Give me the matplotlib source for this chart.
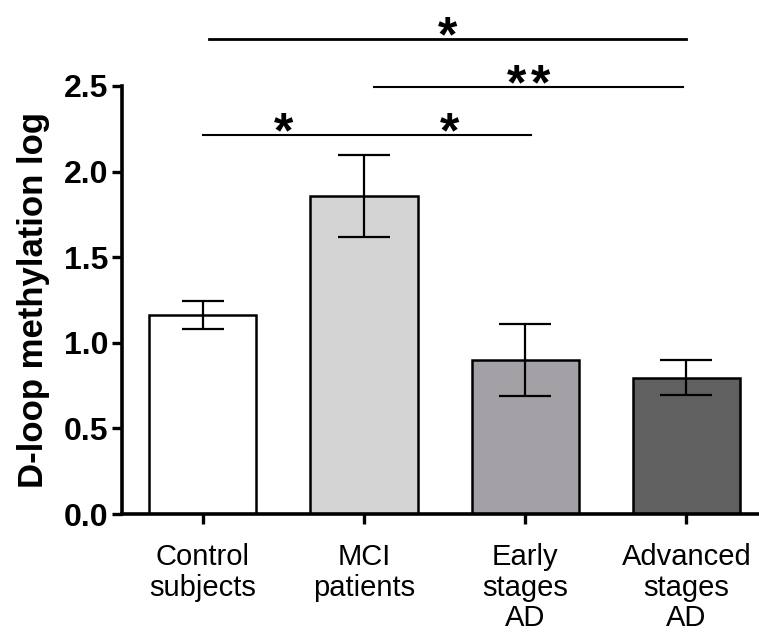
import matplotlib
matplotlib.use('Agg')
import matplotlib.pyplot as plt

plt.rcParams['font.family'] = ['Liberation Sans', 'DejaVu Sans']

grupos = ['Control\nsubjects', 'MCI\npatients', 'Early\nstages\nAD', 'Advanced\nstages\nAD']
medias = [1.165, 1.857, 0.898, 0.795]
errores = [0.082, 0.24, 0.21, 0.102]
colores = ['#ffffff', '#d4d4d4', '#a3a1a5', '#606060']
capsizes = [14.8, 19, 19, 19]

# comparaciones: (x inicio, x fin, altura, numero de asteriscos)
comparaciones = [
    (0.04, 3.0, 2.775, 1),
    (1.06, 2.98, 2.496, 2),
    (0.0, 1.01, 2.214, 1),
    (1.025, 2.035, 2.214, 1),
]

fig = plt.figure(figsize=(7.59, 6.36), dpi=100)
ax = fig.add_axes([0.1607, 0.1918, 0.85, 0.673])

x = list(range(len(grupos)))
ax.bar(x, medias, width=0.665, color=colores, edgecolor='black', linewidth=1.8, zorder=2)
for i in x:
    ax.errorbar(i, medias[i], yerr=errores[i], fmt='none', ecolor='black',
                elinewidth=1.6, capsize=capsizes[i], capthick=1.6, zorder=3)

ax.set_xlim(-0.5, 3.5)
ax.set_ylim(0, 2.5)
ax.set_yticks([0, 0.5, 1.0, 1.5, 2.0, 2.5])
ax.set_yticklabels(['0.0', '0.5', '1.0', '1.5', '2.0', '2.5'], fontsize=23, fontweight='bold')
ax.set_xticks(x)
ax.set_xticklabels(grupos, fontsize=21, linespacing=1.12)
ax.tick_params(axis='both', width=2.4, length=7)
ax.tick_params(axis='y', pad=3)
ax.tick_params(axis='x', pad=14)
ax.set_ylabel('D-loop methylation log', fontsize=25, fontweight='bold', labelpad=10)

for lado in ['top', 'right']:
    ax.spines[lado].set_visible(False)
for lado in ['left', 'bottom']:
    ax.spines[lado].set_linewidth(2.6)

for x0, x1, h, n in comparaciones:
    lw = 2.0 if h > 2.7 else 1.5
    ax.plot([x0, x1], [h, h], color='black', lw=lw, clip_on=False)
    centro = (x0 + x1) / 2
    desplaz = [0] if n == 1 else [-8.5, 8.5]
    for dx in desplaz:
        ax.annotate('*', xy=(centro, h), xytext=(dx, -9), textcoords='offset points',
                    ha='center', va='baseline', fontsize=36, fontweight='bold',
                    annotation_clip=False)

plt.savefig('out.png', dpi=100)
